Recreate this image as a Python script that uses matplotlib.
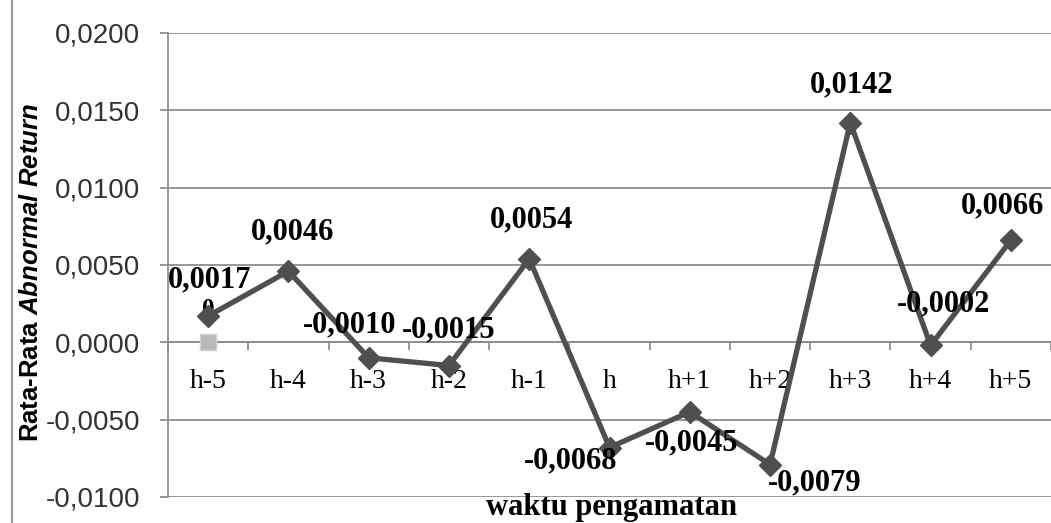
import numpy as np
import matplotlib
matplotlib.use('Agg')
from matplotlib import pyplot as plt
from matplotlib.lines import Line2D
from matplotlib.ticker import FixedLocator, FuncFormatter

plt.rcParams['mathtext.fontset'] = 'custom'
plt.rcParams['mathtext.it'] = 'Liberation Sans:italic:bold'
plt.rcParams['mathtext.rm'] = 'Liberation Sans:bold'

# data
categories = ['h-5', 'h-4', 'h-3', 'h-2', 'h-1', 'h', 'h+1', 'h+2', 'h+3', 'h+4', 'h+5']
abnormal_return = [0.0017, 0.0046, -0.0010, -0.0015, 0.0054, -0.0068,
                   -0.0045, -0.0079, 0.0142, -0.0002, 0.0066]
second_series = [0.0]
y_ticks = [-0.01, -0.005, 0.0, 0.005, 0.01, 0.015, 0.02]

# label offsets in points (dx, dy)
label_offsets = [(1, 26), (3, 28), (-14, 24), (0, 26), (2, 28), (-28, -10),
                 (1, -22), (32, -13), (1, 27), (9, 30), (-6, 25)]


def comma_fmt(v, pos=None):
    return f"{v:.4f}".replace('.', ',').replace('-0,0000', '0,0000')


fig = plt.figure(figsize=(10.51, 5.23), dpi=100)
ax = fig.add_axes([168 / 1051, 1 - 497 / 523, 1 - 168 / 1051, (497 - 33) / 523])

x = np.arange(len(categories))
line_color = '#4f4f4f'
grid_color = '#8e8e8e'

ax.plot(x[:len(second_series)], second_series, linestyle='none', marker='s', markersize=11,
        color='#b8b8b8', markeredgecolor='#d0d0d0', zorder=3)
ax.annotate('0', (0, second_series[0]), xytext=(0, 24), textcoords='offset points',
            ha='center', va='center', fontsize=18, fontweight='bold',
            family='Liberation Serif', zorder=2)

ax.plot(x, abnormal_return, color=line_color, linewidth=3.8, marker='D', markersize=11.5,
        zorder=4)

for i, v in enumerate(abnormal_return):
    dx, dy = label_offsets[i]
    ax.annotate(comma_fmt(v), (x[i], v), xytext=(dx, dy), textcoords='offset points',
                ha='center', va='center', fontsize=22, fontweight='bold',
                family='Liberation Serif', zorder=5)

ax.set_xlim(-0.5, len(categories) - 0.5)
ax.set_ylim(-0.01, 0.02)
ax.set_yticks(y_ticks)
ax.yaxis.set_major_formatter(FuncFormatter(comma_fmt))
ax.grid(axis='y', color=grid_color, linewidth=1.3)
ax.set_axisbelow(True)

for side in ['top', 'right']:
    ax.spines[side].set_visible(False)
ax.spines['left'].set_color(grid_color)
ax.spines['left'].set_linewidth(1.3)
ax.spines['bottom'].set_position(('data', 0))
ax.spines['bottom'].set_color(grid_color)
ax.spines['bottom'].set_linewidth(1.3)

ax.set_xticks(x)
ax.set_xticklabels(categories, family='Liberation Serif', fontsize=20)
ax.xaxis.set_minor_locator(FixedLocator(np.arange(-0.5, len(categories), 1.0)))
ax.tick_params(axis='x', which='major', length=0, pad=19)
ax.tick_params(axis='x', which='minor', length=6, width=1.3, color=grid_color, direction='out')
ax.tick_params(axis='y', length=6, width=1.3, color=grid_color, pad=14)
for lab in ax.get_yticklabels():
    lab.set_family('Liberation Sans')
    lab.set_fontsize(20)
    lab.set_color('#333333')

fig.text(612 / 1051, 1 - 508 / 523, 'waktu pengamatan', ha='center', va='center',
         fontsize=22, fontweight='bold', family='Liberation Serif')
fig.text(31 / 1051, 1 - 272 / 523, r'Rata-Rata $\it{Abnormal\ Return}$', rotation=90,
         ha='center', va='center', fontsize=18.5, fontweight='bold', family='Liberation Sans')

fig.add_artist(Line2D([12 / 1051, 12 / 1051], [0, 1], color='#9a9a9a', linewidth=1.5))

fig.savefig('out.png', dpi=100)
